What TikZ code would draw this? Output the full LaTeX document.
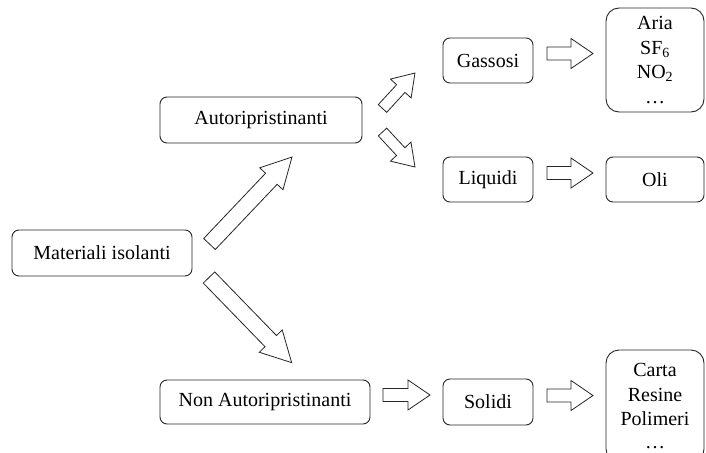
\documentclass[tikz,border=0pt]{standalone}
\usepackage{fontspec}
\setmainfont{Liberation Serif}
\usetikzlibrary{calc}
\tikzset{
  box/.style={draw=black!85, line width=0.9pt, rounded corners=7pt, align=center,
    inner sep=0pt, font=\fontsize{20}{24.5}\selectfont, text=black},
  bigbox/.style={box, rounded corners=13pt},
  blk/.style n args={3}{draw=black!85, line width=0.8pt, fill=white, line join=miter,
    to path={let \p1=(\tikztostart), \p2=(\tikztotarget),
      \n1={atan2(\y2-\y1,\x2-\x1)}, \n2={veclen(\x2-\x1,\y2-\y1)} in
      ([shift={(\p1)},rotate=\n1]0pt,#1 pt)
      -- ([shift={(\p1)},rotate=\n1]{\n2 - #3 pt},#1 pt)
      -- ([shift={(\p1)},rotate=\n1]{\n2 - #3 pt},#2 pt)
      -- ([shift={(\p1)},rotate=\n1]\n2,0pt)
      -- ([shift={(\p1)},rotate=\n1]{\n2 - #3 pt},-#2 pt)
      -- ([shift={(\p1)},rotate=\n1]{\n2 - #3 pt},-#1 pt)
      -- ([shift={(\p1)},rotate=\n1]0pt,-#1 pt) -- cycle}},
  bigarrow/.style={blk={8}{16}{30}},
  smallarrow/.style={blk={5.7}{14}{21}},
  harrow/.style={blk={6.5}{15}{22}}
}
\begin{document}
\begin{tikzpicture}[x=1pt,y=-1pt]
\clip (0,0) rectangle (706,452);
\fill[white] (0,0) rectangle (706,452);

\node[box, minimum width=180pt, minimum height=46pt] (mat) at (102,253) {Materiali isolanti};
\node[box, minimum width=202pt, minimum height=46pt] (aut) at (261,120) {Autoripristinanti};
\node[box, minimum width=210pt, minimum height=44pt] (non) at (265,402) {Non Autoripristinanti};
\node[box, minimum width=90pt, minimum height=45pt] (gas) at (488,60.5) {Gassosi};
\node[box, minimum width=90pt, minimum height=45pt] (liq) at (488,179.5) {Liquidi};
\node[box, minimum width=90pt, minimum height=46pt] (sol) at (488,402) {Solidi};
\node[bigbox, minimum width=98pt, minimum height=104pt] (aria) at (655,60) {Aria\\SF\textsubscript{6}\\NO\textsubscript{2}\\\ldots};
\node[box, minimum width=98pt, minimum height=45pt] (oli) at (655,179.5) {Oli};
\node[bigbox, minimum width=98pt, minimum height=112pt, text depth=0pt,
      font=\fontsize{20}{24.5}\selectfont] (carta) at (655,406) {Carta\\Resine\\Polimeri\\[-2pt]\ldots};

\coordinate (u1) at (209.5,244);  \coordinate (u2) at (292,157);
\coordinate (d1) at (209,277.5);  \coordinate (d2) at (292,363);
\coordinate (su1) at (382.5,108.5); \coordinate (su2) at (415,73);
\coordinate (sd1) at (382.5,132); \coordinate (sd2) at (415,167);
\coordinate (h1a) at (547,53.5); \coordinate (h1b) at (593,53.5);
\coordinate (h2a) at (547,173);  \coordinate (h2b) at (593,173);
\coordinate (h3a) at (383,395);  \coordinate (h3b) at (430,395);
\coordinate (h4a) at (547,395.5); \coordinate (h4b) at (593,395.5);

\path[bigarrow] (u1) to (u2);
\path[bigarrow] (d1) to (d2);
\path[smallarrow] (su1) to (su2);
\path[smallarrow] (sd1) to (sd2);
\path[harrow] (h1a) to (h1b);
\path[harrow] (h2a) to (h2b);
\path[harrow] (h3a) to (h3b);
\path[harrow] (h4a) to (h4b);
\end{tikzpicture}
\end{document}
